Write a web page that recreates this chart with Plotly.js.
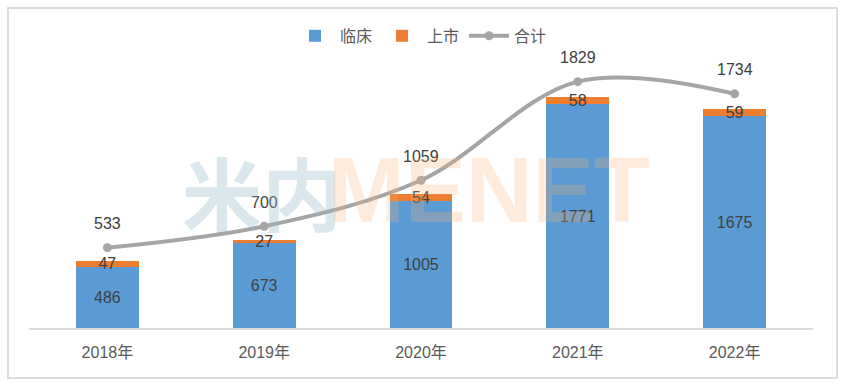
<!DOCTYPE html>
<html>
<head>
<meta charset="utf-8">
<script src="https://cdn.plot.ly/plotly-3.0.1.min.js"></script>
<style>
html,body{margin:0;padding:0;background:#fff;}
#wrap{position:relative;width:843px;height:385px;}
#frame{position:absolute;left:7px;top:7px;width:827px;height:368px;border:2px solid #dcdcdc;pointer-events:none;z-index:5;}
#chart{position:absolute;left:0;top:0;width:843px;height:385px;}
</style>
</head>
<body>
<div id="wrap"><div id="chart"></div><div id="frame"></div></div>
<script>
const years = ['2018年','2019年','2020年','2021年','2022年'];
const clinical = [486, 673, 1005, 1771, 1675];
const listed = [47, 27, 54, 58, 59];
const total = [533, 700, 1059, 1829, 1734];

const FONT = '"Liberation Sans", "Noto Sans CJK SC", sans-serif';
const TXT = '#404040';

const traces = [
  {
    type: 'bar', name: '临床', x: years, y: clinical,
    marker: {color: '#5b9bd5'}, width: 0.4,
    text: clinical.map(String), textposition: 'inside', insidetextanchor: 'middle',
    constraintext: 'none', textangle: 0,
    textfont: {family: FONT, size: 16, color: TXT}, hoverinfo: 'x+y'
  },
  {
    type: 'bar', name: '上市', x: years, y: listed,
    marker: {color: '#ed7d31'}, width: 0.4,
    text: listed.map(String), textposition: 'inside', insidetextanchor: 'middle',
    constraintext: 'none', textangle: 0, cliponaxis: false,
    textfont: {family: FONT, size: 16, color: TXT}, hoverinfo: 'x+y'
  },
  {
    type: 'scatter', mode: 'lines+markers', name: '合计', x: years, y: total,
    yaxis: 'y2',
    line: {color: '#a5a5a5', width: 4, shape: 'spline', smoothing: 1},
    marker: {color: '#a5a5a5', size: 9}
  }
];

const annotations = years.map((yr, i) => ({
  x: yr, y: total[i], xref: 'x', yref: 'y2', text: String(total[i]),
  showarrow: false, yshift: 24,
  font: {family: FONT, size: 16, color: TXT}
}));
// faint watermark (pixel positions converted to domain fractions below)
annotations.push(
  {x: 262, y: 190, xref: 'x domain', yref: 'y domain', xanchor: 'center', text: '米内', showarrow: false,
   font: {family: '"Noto Sans CJK SC", sans-serif', size: 80, weight: 'bold', color: 'rgba(150,190,205,0.35)'}},
  {x: 489, y: 190, xref: 'x domain', yref: 'y domain', xanchor: 'center', text: '<b>MENET</b>', showarrow: false,
   font: {family: '"Liberation Sans", sans-serif', size: 92, color: 'rgba(250,175,110,0.25)'}}
);
for (const a of annotations) {
  if (a.xref === 'x domain') {
    a.x = (a.x - 28.5) / 785;
    a.y = (328 - a.y) / 268;
  }
}

const layout = {
  width: 843, height: 385,
  margin: {l: 28.5, r: 29.5, t: 60, b: 57},
  paper_bgcolor: '#fff', plot_bgcolor: '#fff',
  barmode: 'stack',
  font: {family: FONT, color: TXT},
  showlegend: true,
  legend: {
    orientation: 'h', x: 0.5, xanchor: 'center', y: 1.09, yanchor: 'middle',
    font: {family: '"Noto Sans CJK SC", sans-serif', size: 16, color: '#595959'},
    traceorder: 'normal', itemwidth: 40
  },
  xaxis: {
    type: 'category', range: [-0.5, 4.5],
    showline: true, linecolor: '#d9d9d9', linewidth: 1.5,
    ticks: '', showgrid: false, zeroline: false, ticklabelstandoff: 9,
    tickfont: {family: '"Liberation Sans", "Noto Sans CJK SC", sans-serif', size: 16, color: '#595959'}
  },
  yaxis: {
    range: [0, 2122], showticklabels: false, showgrid: false, zeroline: false, showline: false
  },
  yaxis2: {
    overlaying: 'y', side: 'right', range: [-94, 1998],
    showticklabels: false, showgrid: false, zeroline: false, showline: false
  },
  annotations: annotations
};

Plotly.newPlot('chart', traces, layout, {displayModeBar: false, staticPlot: true});
</script>
</body>
</html>
